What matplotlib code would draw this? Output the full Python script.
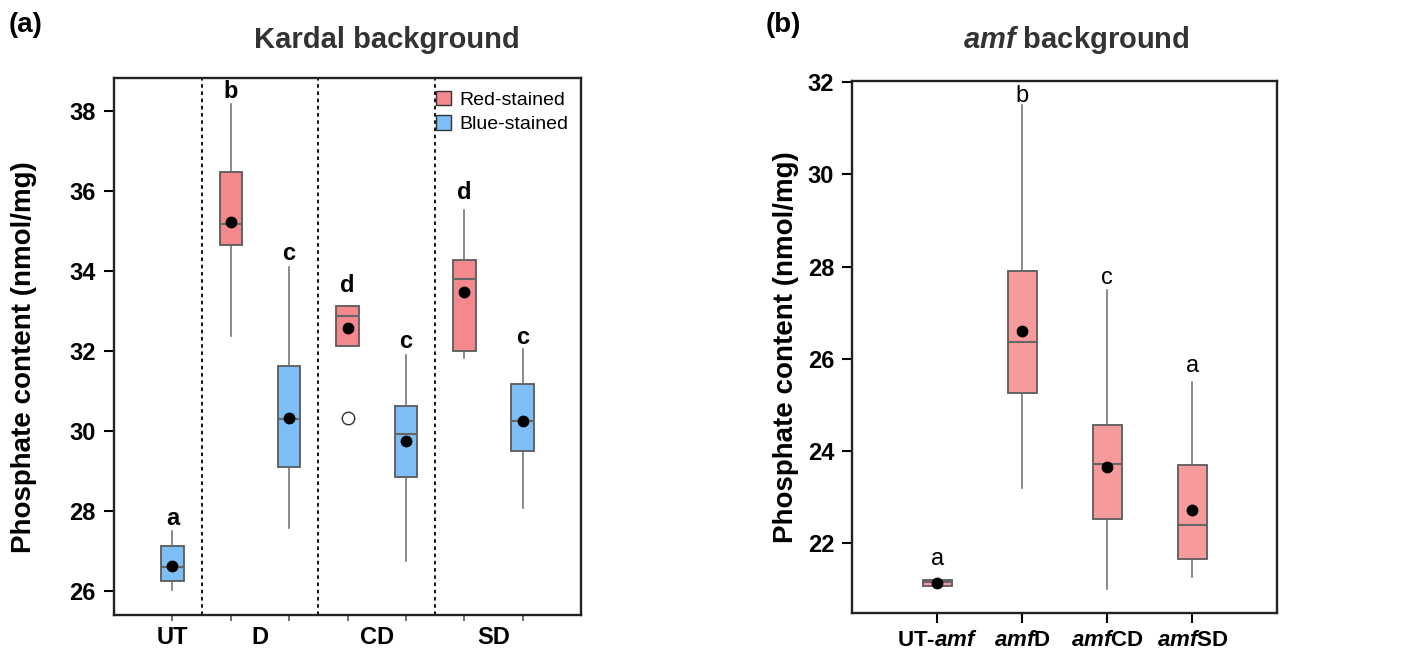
import matplotlib
matplotlib.use("Agg")
import matplotlib.pyplot as plt
from matplotlib.patches import Patch
from matplotlib import font_manager

names = {f.name for f in font_manager.fontManager.ttflist}
BASE = "Liberation Sans" if "Liberation Sans" in names else "DejaVu Sans"
NARROW = "Liberation Sans Narrow" if "Liberation Sans Narrow" in names else BASE
plt.rcParams["font.family"] = [BASE, "DejaVu Sans"]
plt.rcParams["mathtext.fontset"] = "custom"
plt.rcParams["mathtext.it"] = NARROW + ":italic:bold"
plt.rcParams["mathtext.rm"] = NARROW + ":bold"

# ---------------- data: panel (a) Kardal background ----------------
a_groups = ["UT", "D", "CD", "SD"]
a_stain = ["Blue", "Red", "Blue", "Red", "Blue", "Red", "Blue"]
a_whislo = [26.02, 32.37, 27.57, 32.13, 26.76, 31.82, 28.07]
a_q1 = [26.25, 34.65, 29.09, 32.13, 28.86, 32.00, 29.51]
a_med = [26.61, 35.17, 30.31, 32.87, 29.92, 33.80, 30.26]
a_q3 = [27.12, 36.47, 31.62, 33.13, 30.63, 34.27, 31.18]
a_whishi = [27.51, 38.19, 34.11, 33.13, 31.90, 35.53, 32.04]
a_mean = [26.62, 35.22, 30.32, 32.57, 29.74, 33.48, 30.26]
a_fliers = [[], [], [], [30.32], [], [], []]
a_letters = ["a", "b", "c", "d", "c", "d", "c"]
a_letter_y = [27.82, 38.48, 34.45, 33.63, 32.23, 35.96, 32.34]

# ---------------- data: panel (b) amf background ----------------
b_labels = ["UT-$\\mathit{amf}$", "$\\mathit{amf}$D", "$\\mathit{amf}$CD", "$\\mathit{amf}$SD"]
b_whislo = [21.07, 23.20, 20.99, 21.26]
b_q1 = [21.07, 25.26, 22.52, 21.66]
b_med = [21.14, 26.37, 23.72, 22.39]
b_q3 = [21.20, 27.90, 24.55, 23.68]
b_whishi = [21.20, 31.50, 27.49, 25.50]
b_mean = [21.12, 26.59, 23.65, 22.72]
b_letters = ["a", "b", "c", "a"]
b_letter_y = [21.66, 31.71, 27.75, 25.84]

RED = "#F4898D"
BLUE = "#7DBEF6"
RED_B = "#F79A9C"

fig = plt.figure(figsize=(14.13, 6.51), dpi=100)
axA = fig.add_axes([0.0807, 0.0553, 0.3305, 0.8249])
axB = fig.add_axes([0.6032, 0.0579, 0.3008, 0.8177])


def make_stats(lo, q1, med, q3, hi, mean, fliers):
    out = []
    for i in range(len(med)):
        out.append(dict(whislo=lo[i], q1=q1[i], med=med[i], q3=q3[i],
                        whishi=hi[i], mean=mean[i], fliers=fliers[i]))
    return out


def draw(ax, stats, positions, facecolors, width):
    bp = ax.bxp(stats, positions=positions, widths=width, patch_artist=True,
                showmeans=True, showcaps=False, showfliers=True,
                boxprops=dict(edgecolor="#5a5a5a", linewidth=1.3),
                whiskerprops=dict(color="#6a6a6a", linewidth=1.1),
                medianprops=dict(color="#666666", linewidth=1.5),
                meanprops=dict(marker="o", markerfacecolor="black",
                               markeredgecolor="black", markersize=7.5),
                flierprops=dict(marker="o", markerfacecolor="white",
                                markeredgecolor="#333333", markersize=9))
    for patch, fc in zip(bp["boxes"], facecolors):
        patch.set_facecolor(fc)
    return bp


def boldify(labels, family):
    for lab in labels:
        lab.set_fontweight("bold")
        lab.set_family(family)


# ---------------- panel (a) ----------------
posA = list(range(1, len(a_med) + 1))
statsA = make_stats(a_whislo, a_q1, a_med, a_q3, a_whishi, a_mean, a_fliers)
draw(axA, statsA, posA, [RED if s == "Red" else BLUE for s in a_stain], 0.385)
for x in [1.5, 3.5, 5.5]:
    axA.axvline(x, color="black", linestyle=(0, (2, 2)), linewidth=1.3)
for p, l, y in zip(posA, a_letters, a_letter_y):
    axA.text(p, y, l, ha="center", va="center", fontsize=17,
             fontweight="bold", family=NARROW)
axA.set_xlim(0, 8)
axA.set_ylim(25.4, 38.83)
axA.set_yticks([26, 28, 30, 32, 34, 36, 38])
axA.set_xticks(posA)
axA.set_xticklabels([""] * len(posA))
axA.xaxis.remove_overlapping_locs = False
axA.set_xticks([1, 2.5, 4.5, 6.5], minor=True)
axA.set_xticklabels(a_groups, minor=True)
axA.tick_params(axis="x", which="major", length=4, width=1.2, color="#555555")
axA.tick_params(axis="x", which="minor", length=0, pad=8, labelsize=17)
axA.tick_params(axis="y", length=7, width=1.5, labelsize=17, pad=6)
boldify(axA.get_xticklabels(minor=True) + axA.get_yticklabels(), NARROW)
axA.set_ylabel("Phosphate content (nmol/mg)", fontsize=20, fontweight="bold")
axA.yaxis.set_label_coords(-0.165, 0.48)
handles = [Patch(facecolor=RED, edgecolor="#333333", label="Red-stained"),
           Patch(facecolor=BLUE, edgecolor="#333333", label="Blue-stained")]
axA.legend(handles=handles, loc="upper right", frameon=False, fontsize=14,
           handlelength=0.75, handleheight=0.75, handletextpad=0.45,
           borderaxespad=0.25, labelspacing=0.35)

# ---------------- panel (b) ----------------
posB = list(range(1, len(b_med) + 1))
statsB = make_stats(b_whislo, b_q1, b_med, b_q3, b_whishi, b_mean,
                    [[] for _ in b_med])
draw(axB, statsB, posB, [RED_B] * len(posB), 0.346)
for p, l, y in zip(posB, b_letters, b_letter_y):
    axB.text(p, y, l, ha="center", va="center", fontsize=17, family=NARROW)
axB.set_xlim(0, 5)
axB.set_ylim(20.47, 32.03)
axB.set_yticks([22, 24, 26, 28, 30, 32])
axB.set_xticks(posB)
axB.set_xticklabels(b_labels)
axB.tick_params(axis="x", length=7, width=1.5, labelsize=16, pad=5)
axB.tick_params(axis="y", length=7, width=1.5, labelsize=17, pad=6)
boldify(axB.get_xticklabels() + axB.get_yticklabels(), NARROW)
axB.set_ylabel("Phosphate content (nmol/mg)", fontsize=20, fontweight="bold")
axB.yaxis.set_label_coords(-0.125, 0.5)

for ax in (axA, axB):
    for sp in ax.spines.values():
        sp.set_linewidth(1.7)
        sp.set_color("#222222")

fig.text(0.274, 0.938, "Kardal background", ha="center", va="center",
         fontsize=21, fontweight="bold", color="#333333")
fig.text(0.762, 0.938, "$\\mathit{amf}$ background", ha="center", va="center",
         fontsize=21, fontweight="bold", color="#333333")
fig.text(0.006, 0.962, "(a)", ha="left", va="center", fontsize=20, fontweight="bold")
fig.text(0.542, 0.962, "(b)", ha="left", va="center", fontsize=20, fontweight="bold")

fig.savefig("out.png", dpi=100)
